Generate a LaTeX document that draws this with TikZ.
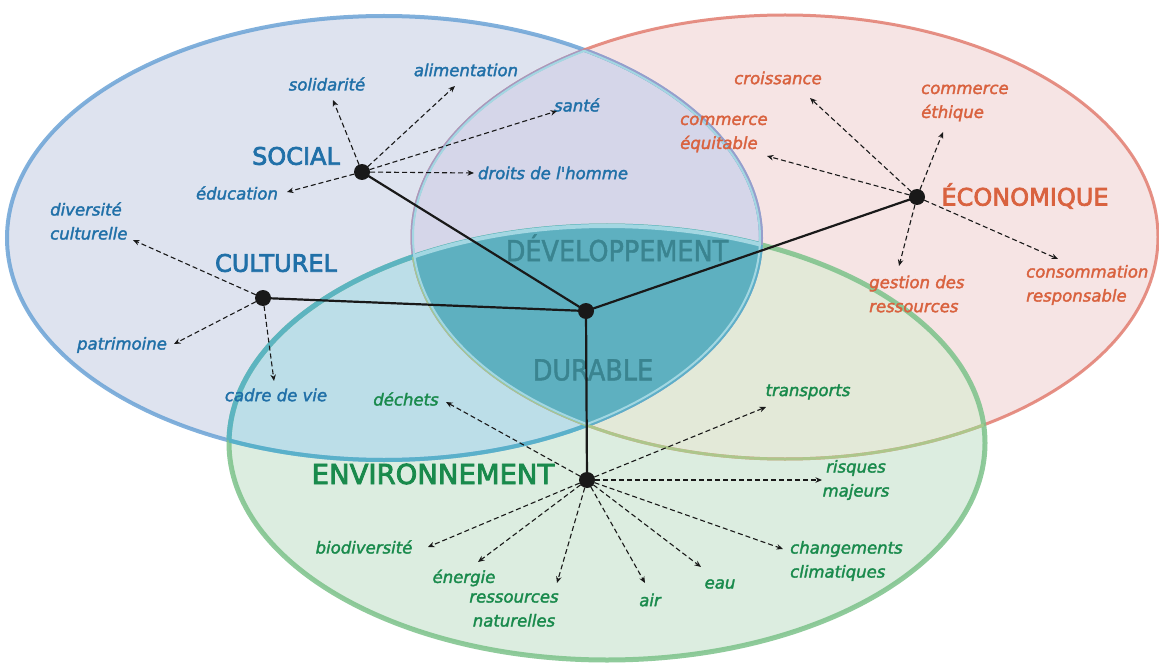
\documentclass[tikz,border=0pt]{standalone}
\usepackage{fontspec}
\setmainfont{DejaVu Sans}
\newfontfamily\headfont{DejaVu Sans}[FakeBold=3]
\newfontfamily\itemfont{DejaVu Sans}[FakeBold=2]
\newfontfamily\devfont{DejaVu Sans}[FakeStretch=0.88,FakeBold=1.5]
\usetikzlibrary{arrows.meta}
\definecolor{socfill}{HTML}{DEE3EF}
\definecolor{ecofill}{HTML}{F6E4E4}
\definecolor{envfill}{HTML}{DCEDE0}
\definecolor{socecofill}{HTML}{D5D6E9}
\definecolor{socenvfill}{HTML}{BCDEE8}
\definecolor{ecoenvfill}{HTML}{E3E9D8}
\definecolor{durfill}{HTML}{5EB0C0}
\definecolor{durrim}{HTML}{A3D7E2}
\definecolor{socline}{HTML}{6BA3D6}
\definecolor{ecoline}{HTML}{E27D70}
\definecolor{envline}{HTML}{7CC28A}
\definecolor{purpline}{HTML}{9C9CCA}
\definecolor{tealline}{HTML}{55B2C8}
\definecolor{oliveline}{HTML}{A4D08E}
\definecolor{soctext}{HTML}{2070A8}
\definecolor{ecotext}{HTML}{D9623F}
\definecolor{envtext}{HTML}{198A4C}
\definecolor{durtext}{HTML}{3A8490}
\newcommand\soczone{(384,238) ellipse [x radius=377pt, y radius=222pt]}
\newcommand\ecozone{(785,237) ellipse [x radius=373pt, y radius=222pt]}
\newcommand\envzone{(607,443) ellipse [x radius=378pt, y radius=217pt]}
\tikzset{
  dot/.style={circle,fill=black!90,inner sep=0pt,minimum size=16pt},
  link/.style={line width=2.2pt,black!90},
  pointer/.style={line width=1.1pt,black!90,dash pattern=on 5pt off 3pt,-{Stealth[length=6.5pt,width=5.5pt]}},
  rim/.style={line width=4pt,opacity=0.85},
  title/.style={inner sep=0pt,font=\headfont\fontsize{24}{24}\selectfont},
  item/.style={inner sep=0pt,align=left,font=\itemfont\itshape\fontsize{16.5}{24}\selectfont},
  socitem/.style={item,text=soctext},
  ecoitem/.style={item,text=ecotext},
  envitem/.style={item,text=envtext},
  devtitle/.style={inner sep=0pt,text=durtext,font=\devfont\fontsize{29}{29}\selectfont}
}
\begin{document}
\begin{tikzpicture}[x=1pt,y=-1pt]
  \useasboundingbox (0,0) rectangle (1159,663);
  \fill[white] (0,0) rectangle (1159,663); % background
  \fill[socfill] \soczone; % social zone
  \fill[ecofill] \ecozone; % economic zone
  \fill[envfill] \envzone; % environment zone
  \begin{scope}
    \clip \soczone;
    \fill[socecofill] \ecozone; % social + economic
    \fill[socenvfill] \envzone; % social + environment
  \end{scope}
  \begin{scope}
    \clip \ecozone;
    \fill[ecoenvfill] \envzone; % economic + environment
  \end{scope}
  \draw[rim,socline] \soczone; % outlines
  \draw[rim,ecoline,line width=3pt] \ecozone;
  \draw[rim,envline,line width=5pt] \envzone;
  \begin{scope}
    \clip \soczone; % outlines seen through the social zone
    \draw[rim,purpline,line width=3pt] \ecozone;
    \draw[rim,tealline,line width=5pt] \envzone;
  \end{scope}
  \begin{scope}
    \clip \ecozone;
    \draw[rim,purpline] \soczone;
  \end{scope}
  \begin{scope}
    \clip \envzone;
    \draw[rim,tealline] \soczone;
    \draw[rim,oliveline,line width=3pt] \ecozone;
  \end{scope}
  \begin{scope}
    \clip \soczone;
    \clip \ecozone;
    \fill[durfill] \envzone; % all three
    \draw[durrim,line width=4pt] \envzone; % light rim
    \draw[durrim,line width=4pt] \soczone;
    \draw[durrim,line width=4pt] \ecozone;
  \end{scope}
  \node[devtitle] (dev) at (617,248) {DÉVELOPPEMENT};
  \node[devtitle] (dur) at (593,370) {DURABLE};

  % hubs
  \coordinate (ctr) at (586,311);
  \coordinate (soc) at (362,172);
  \coordinate (cul) at (263,298);
  \coordinate (eco) at (917,197);
  \coordinate (env) at (587,480);
  \draw[link] (ctr) -- (soc);
  \draw[link] (ctr) -- (cul);
  \draw[link] (ctr) -- (eco);
  \draw[link] (ctr) -- (env);

  % social
  \node[title,text=soctext] (soct) at (296,156) {SOCIAL};
  \node[socitem] (solid) at (327,84) {solidarité};
  \node[socitem] (alim) at (466,70) {alimentation};
  \node[socitem] (sante) at (577,105) {santé};
  \node[socitem] (droits) at (553,173) {droits de l'homme};
  \node[socitem] (educ) at (237,193) {éducation};
  \coordinate (solid-tip) at (333,100);
  \coordinate (alim-tip) at (455,86);
  \coordinate (sante-tip) at (557,111);
  \coordinate (droits-tip) at (474,173);
  \coordinate (educ-tip) at (287,192);
  \draw[pointer] (soc) -- (solid-tip);
  \draw[pointer] (soc) -- (alim-tip);
  \draw[pointer] (soc) -- (sante-tip);
  \draw[pointer] (soc) -- (droits-tip);
  \draw[pointer] (soc) -- (educ-tip);

  % culturel
  \node[title,text=soctext] (cult) at (276,263) {CULTUREL};
  \node[socitem,anchor=west] (divers) at (50,221) {diversité\\culturelle};
  \node[socitem] (patri) at (122,345) {patrimoine};
  \node[socitem] (cadre) at (276,395) {cadre de vie};
  \coordinate (divers-tip) at (133,240);
  \coordinate (patri-tip) at (174,344);
  \coordinate (cadre-tip) at (274,381);
  \draw[pointer] (cul) -- (divers-tip);
  \draw[pointer] (cul) -- (patri-tip);
  \draw[pointer] (cul) -- (cadre-tip);

  % economique
  \node[title,text=ecotext] (ecot) at (1025,196) {ÉCONOMIQUE};
  \node[ecoitem] (crois) at (778,78) {croissance};
  \node[ecoitem,anchor=west] (ethiq) at (921,103) {commerce\\éthique};
  \node[ecoitem,anchor=west] (equit) at (680,134) {commerce\\équitable};
  \node[ecoitem,anchor=west] (gest) at (869,294) {gestion des\\ressources};
  \node[ecoitem,anchor=west] (conso) at (1026,285) {consommation\\responsable};
  \coordinate (crois-tip) at (810,98);
  \coordinate (ethiq-tip) at (943,132);
  \coordinate (equit-tip) at (767,156);
  \coordinate (gest-tip) at (899,266);
  \coordinate (conso-tip) at (1058,259);
  \draw[pointer] (eco) -- (crois-tip);
  \draw[pointer] (eco) -- (ethiq-tip);
  \draw[pointer] (eco) -- (equit-tip);
  \draw[pointer] (eco) -- (gest-tip);
  \draw[pointer] (eco) -- (conso-tip);

  % environnement
  \node[title,text=envtext,font=\headfont\fontsize{27.5}{27.5}\selectfont] (envt) at (433,474) {ENVIRONNEMENT};
  \node[envitem] (dech) at (406,399) {déchets};
  \node[envitem] (trans) at (808,392) {transports};
  \node[envitem,align=center] (risq) at (856,480) {risques\\majeurs};
  \node[envitem,anchor=west] (clim) at (790,561) {changements\\climatiques};
  \node[envitem] (eau) at (720,584) {eau};
  \node[envitem] (air) at (650,600) {air};
  \node[envitem,align=center] (ress) at (514,610) {ressources\\naturelles};
  \node[envitem] (ener) at (464,578) {énergie};
  \node[envitem] (biod) at (364,547) {biodiversité};
  \coordinate (dech-tip) at (446,402);
  \coordinate (trans-tip) at (766,407);
  \coordinate (risq-tip) at (822,480);
  \coordinate (clim-tip) at (783,549);
  \coordinate (eau-tip) at (701,567);
  \coordinate (air-tip) at (645,583);
  \coordinate (ress-tip) at (557,583);
  \coordinate (ener-tip) at (478,562);
  \coordinate (biod-tip) at (428,547);
  \draw[pointer] (env) -- (dech-tip);
  \draw[pointer] (env) -- (trans-tip);
  \draw[pointer] (env) -- (risq-tip);
  \draw[pointer] (env) -- (clim-tip);
  \draw[pointer] (env) -- (eau-tip);
  \draw[pointer] (env) -- (air-tip);
  \draw[pointer] (env) -- (ress-tip);
  \draw[pointer] (env) -- (ener-tip);
  \draw[pointer] (env) -- (biod-tip);

  % dots on top
  \node[dot] (ctr-dot) at (ctr) {};
  \node[dot] (soc-dot) at (soc) {};
  \node[dot] (cul-dot) at (cul) {};
  \node[dot] (eco-dot) at (eco) {};
  \node[dot] (env-dot) at (env) {};
\end{tikzpicture}
\end{document}
